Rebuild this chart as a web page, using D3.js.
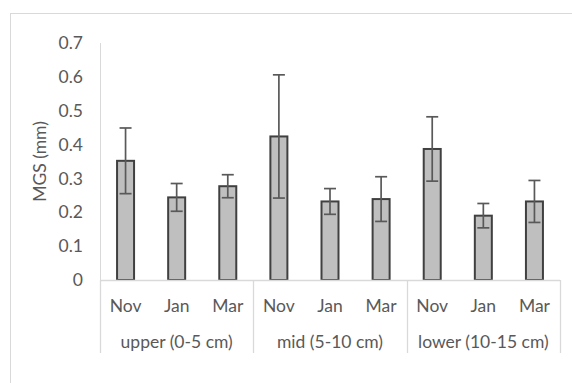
<!DOCTYPE html>
<html><head><meta charset="utf-8">
<script src="https://cdn.jsdelivr.net/npm/d3@7"></script>
<style>body{margin:0;background:#fff}svg{display:block}text{font-family:Lato,"Open Sans",sans-serif;fill:#595959}</style>
</head><body>
<svg id="c" width="572" height="383"></svg>
<script>
const groups = ["upper (0-5 cm)", "mid (5-10 cm)", "lower (10-15 cm)"];
const months = ["Nov", "Jan", "Mar"];
const values = [0.352, 0.244, 0.277, 0.424, 0.232, 0.239, 0.387, 0.190, 0.232];
const errors = [0.097, 0.041, 0.034, 0.182, 0.038, 0.066, 0.095, 0.036, 0.062];
const yTicks = [0, 0.1, 0.2, 0.3, 0.4, 0.5, 0.6, 0.7];

const FS = "17.5px";
const svg = d3.select("#c");
const L = 100, R = 560, T = 43, B = 280;
const cats = [];
groups.forEach((g, gi) => months.forEach((m, mi) => cats.push({g, m, key: gi + "-" + mi})));
const x = d3.scaleBand().domain(cats.map(c => c.key)).range([L, R]).paddingInner(0).paddingOuter(0);
const y = d3.scaleLinear().domain([0, 0.7]).range([B, T]);
const gx = d3.scaleBand().domain(groups).range([L, R]);

// outer border
svg.append("rect").attr("x", 10.5).attr("y", 13.5).attr("width", 600).attr("height", 400)
  .attr("fill", "none").attr("stroke", "#d9d9d9").attr("stroke-width", 1);

// y axis
const ya = svg.append("g").attr("transform", `translate(${L},0)`)
  .call(d3.axisLeft(y).tickValues(yTicks).tickSize(0).tickPadding(17).tickFormat(d => d === 0 ? "0" : d3.format(".1f")(d)));
ya.select(".domain").attr("stroke", "#d9d9d9").attr("d", `M0.5,${T}V${B}`);
ya.selectAll("text").style("font-size", FS).attr("fill", "#595959").style("font-family", "Lato");

// y title
svg.append("text").attr("transform", `translate(46,${(T + B) / 2}) rotate(-90)`)
  .attr("text-anchor", "middle").style("font-size", FS).text("MGS (mm)");

// bars
const bw = 17;
svg.append("g").selectAll("rect").data(cats).join("rect")
  .attr("x", d => x(d.key) + x.bandwidth() / 2 - bw / 2)
  .attr("y", (d, i) => y(values[i]))
  .attr("width", bw)
  .attr("height", (d, i) => B - y(values[i]))
  .attr("fill", "#bfbfbf").attr("stroke", "#404040").attr("stroke-width", 2);

// error bars
const eg = svg.append("g").attr("stroke", "#595959").attr("stroke-width", 1.7);
cats.forEach((d, i) => {
  const cx = x(d.key) + x.bandwidth() / 2;
  const y1 = y(values[i] + errors[i]), y0 = y(values[i] - errors[i]);
  eg.append("line").attr("x1", cx).attr("x2", cx).attr("y1", y1).attr("y2", y0);
  eg.append("line").attr("x1", cx - 6).attr("x2", cx + 6).attr("y1", y1).attr("y2", y1);
  eg.append("line").attr("x1", cx - 6).attr("x2", cx + 6).attr("y1", y0).attr("y2", y0);
});

// x axis line & group separators
const ax = svg.append("g").attr("stroke", "#d9d9d9").attr("stroke-width", 1.3);
ax.append("line").attr("x1", L).attr("x2", R).attr("y1", B + 0.5).attr("y2", B + 0.5);
[L, ...groups.map(g => gx(g) + gx.bandwidth())].forEach(px => {
  ax.append("line").attr("x1", Math.round(px) + 0.5).attr("x2", Math.round(px) + 0.5).attr("y1", B).attr("y2", 353);
});

// month labels
svg.append("g").selectAll("text").data(cats).join("text")
  .attr("x", d => x(d.key) + x.bandwidth() / 2).attr("y", 312)
  .attr("text-anchor", "middle").style("font-size", FS).text(d => d.m);

// group labels
svg.append("g").selectAll("text").data(groups).join("text")
  .attr("x", d => gx(d) + gx.bandwidth() / 2).attr("y", 348)
  .attr("text-anchor", "middle").style("font-size", FS).text(d => d);
</script>
</body></html>
